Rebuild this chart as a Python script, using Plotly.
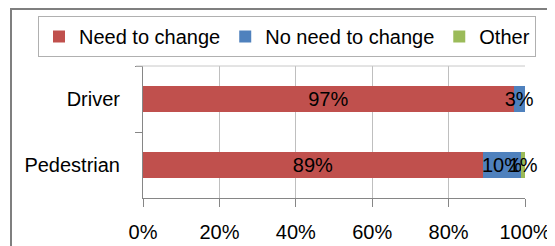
import plotly.graph_objects as go

categories = ["Driver", "Pedestrian"]
need_change = [97, 89]
no_need_change = [3, 10]
other = [0, 1]
x_ticks = [0, 20, 40, 60, 80, 100]
x_tick_labels = ["0%", "20%", "40%", "60%", "80%", "100%"]

series = [
    ("Need to change", need_change, "#C0504D"),
    ("No need to change", no_need_change, "#4F81BD"),
    ("Other", other, "#9BBB59"),
]

FONT = "Liberation Sans"

fig = go.Figure()
for name, vals, color in series:
    fig.add_trace(go.Bar(
        name=name, y=categories, x=vals, orientation="h",
        marker=dict(color=color, line=dict(width=0)),
        text=[f"{v}%" if v > 0 else "" for v in vals],
        textposition="inside", insidetextanchor="middle",
        constraintext="none", textangle=0, cliponaxis=False,
        textfont=dict(color="black", size=20, family=FONT),
        width=0.4,
    ))

# the page body has an 8px margin, so figure pixel = page pixel - 8
OFF = 8
W, H = 555 - OFF, 246 - OFF
L, T, PW, PH = 143 - OFF, 66 - OFF, 382, 132
R, B = W - L - PW, H - T - PH

def px_x(p):
    return (p - OFF - L) / PW

def px_y(p):
    return (T + PH - (p - OFF)) / PH

fig.update_layout(
    width=W, height=H, barmode="stack",
    margin=dict(l=L, r=R, t=T, b=B, pad=0, autoexpand=False),
    paper_bgcolor="white", plot_bgcolor="white",
    font=dict(family=FONT, size=20, color="black"),
    showlegend=True,
    legend=dict(
        orientation="h", x=px_x(38), y=px_y(16), xanchor="left", yanchor="top",
        bordercolor="#b0b0b0", borderwidth=1, font=dict(size=20, family=FONT),
        traceorder="normal", itemwidth=30,
    ),
    xaxis=dict(
        range=[0, 100], tickvals=x_ticks, ticktext=x_tick_labels,
        showgrid=True, gridcolor="#bfbfbf", gridwidth=1,
        showline=True, linecolor="#868686", linewidth=1,
        ticks="outside", ticklen=8, tickcolor="#868686",
        ticklabelstandoff=8, zeroline=False, fixedrange=True, automargin=False,
    ),
    yaxis=dict(
        autorange="reversed", showline=True, linecolor="#868686", linewidth=1,
        ticks="outside", ticklen=7, tickcolor="#868686", tickson="boundaries",
        ticklabelstandoff=18, showgrid=False, fixedrange=True, automargin=False,
    ),
    shapes=[
        dict(type="line", xref="paper", yref="paper", x0=px_x(136), x1=1, y0=1, y1=1,
             line=dict(color="#c8c8c8", width=1)),
        dict(type="rect", xref="paper", yref="paper", x0=px_x(11), x1=px_x(600),
             y0=px_y(300), y1=px_y(9), line=dict(color="#7f7f7f", width=2)),
    ],
)

fig.write_html("out.html")
